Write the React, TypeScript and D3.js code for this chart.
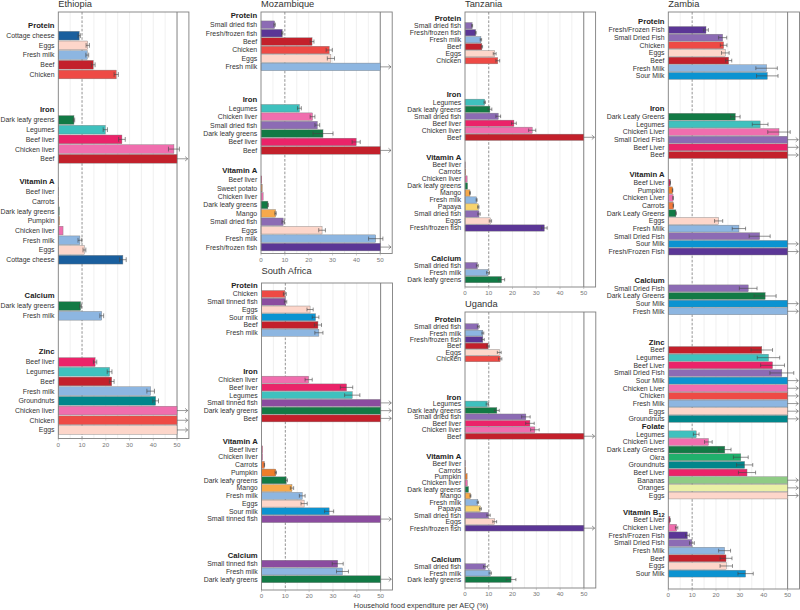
import React from "react";
import * as d3 from "d3";

type Row = [string, number, number]; // food, % of household food expenditure per AEQ, error half-width
const OFF = Infinity; // bar continues beyond the 50% limit (drawn with an arrow)

// ---------------- Ethiopia ----------------
const ETHIOPIA_PROTEIN: Row[] = [["Cottage cheese", 8.8, 0.5], ["Eggs", 12.4, 0.7], ["Fresh milk", 12.2, 0.6], ["Beef", 14.7, 0.8], ["Chicken", 24.4, 0.9]];
const ETHIOPIA_IRON: Row[] = [["Dark leafy greens", 6.6, 0.3], ["Legumes", 19.8, 0.9], ["Beef liver", 26.8, 1.4], ["Chicken liver", 48.7, 2.3], ["Beef", OFF, 0]];
const ETHIOPIA_VITA: Row[] = [["Beef liver", 0.1, 0], ["Carrots", 0.2, 0], ["Dark leafy greens", 0.4, 0], ["Pumpkin", 0.5, 0], ["Chicken liver", 2.0, 0], ["Fresh milk", 9.1, 0.8], ["Eggs", 11.0, 0.6], ["Cottage cheese", 27.2, 1.4]];
const ETHIOPIA_CALCIUM: Row[] = [["Dark leafy greens", 9.4, 0.4], ["Fresh milk", 18.3, 0.8]];
const ETHIOPIA_ZINC: Row[] = [["Beef liver", 15.5, 0.7], ["Legumes", 21.6, 1.0], ["Beef", 22.5, 1.0], ["Fresh milk", 38.9, 1.6], ["Groundnuts", 41.0, 1.2], ["Chicken liver", OFF, 0], ["Chicken", OFF, 0], ["Eggs", OFF, 0]];

// ---------------- Mozambique ----------------
const MOZAMBIQUE_PROTEIN: Row[] = [["Small dried fish", 5.7, 0.3], ["Fresh/frozen fish", 8.9, 0.3], ["Beef", 21.4, 0.8], ["Chicken", 28.6, 1.3], ["Eggs", 29.3, 1.5], ["Fresh milk", OFF, 0]];
const MOZAMBIQUE_IRON: Row[] = [["Legumes", 16.1, 0.8], ["Chicken liver", 21.6, 1.0], ["Small dried fish", 23.6, 1.0], ["Dark leafy greens", 26.0, 4.2], ["Beef liver", 39.9, 1.7], ["Beef", OFF, 0]];
const MOZAMBIQUE_VITA: Row[] = [["Beef liver", 0.3, 0], ["Sweet potato", 0.5, 0], ["Chicken liver", 0.9, 0], ["Dark leafy greens", 2.9, 0.2], ["Mango", 6.1, 0.3], ["Small dried fish", 9.3, 0.5], ["Eggs", 25.6, 1.4], ["Fresh milk", 48.1, 3.0], ["Fresh/frozen fish", OFF, 0]];

// ---------------- South Africa ----------------
const SOUTH_AFRICA_PROTEIN: Row[] = [["Chicken", 9.8, 0.6], ["Small tinned fish", 10.1, 0.5], ["Eggs", 20.4, 1.3], ["Sour milk", 22.7, 1.4], ["Beef", 23.7, 1.5], ["Fresh milk", 24.1, 1.7]];
const SOUTH_AFRICA_IRON: Row[] = [["Chicken liver", 19.8, 1.5], ["Beef liver", 35.7, 2.6], ["Legumes", 38.1, 3.2], ["Small tinned fish", OFF, 0], ["Dark leafy greens", OFF, 0], ["Beef", OFF, 0]];
const SOUTH_AFRICA_VITA: Row[] = [["Beef liver", 0.4, 0], ["Chicken liver", 0.5, 0], ["Carrots", 1.2, 0.1], ["Pumpkin", 6.0, 0.3], ["Dark leafy greens", 10.4, 0.5], ["Mango", 12.8, 0.7], ["Fresh milk", 17.1, 1.2], ["Eggs", 17.9, 1.3], ["Sour milk", 28.4, 1.9], ["Small tinned fish", OFF, 0]];
const SOUTH_AFRICA_CALCIUM: Row[] = [["Small tinned fish", 32.0, 2.3], ["Fresh milk", 34.0, 2.5], ["Dark leafy greens", OFF, 0]];

// ---------------- Tanzania ----------------
const TANZANIA_PROTEIN: Row[] = [["Small dried fish", 3.0, 0.2], ["Fresh/frozen fish", 4.5, 0.2], ["Fresh milk", 6.7, 0.3], ["Beef", 7.1, 0.3], ["Eggs", 12.5, 0.6], ["Chicken", 13.8, 0.8]];
const TANZANIA_IRON: Row[] = [["Legumes", 8.3, 0.3], ["Dark leafy greens", 10.5, 0.8], ["Small dried fish", 14.0, 1.0], ["Beef liver", 20.6, 1.0], ["Chicken liver", 28.3, 1.5], ["Beef", OFF, 0]];
const TANZANIA_VITA: Row[] = [["Beef liver", 0.1, 0], ["Carrots", 0.3, 0], ["Chicken liver", 0.9, 0], ["Dark leafy greens", 1.1, 0], ["Mango", 2.1, 0.2], ["Fresh milk", 4.9, 0.2], ["Papaya", 5.6, 0.3], ["Small dried fish", 5.9, 0.5], ["Eggs", 10.7, 0.5], ["Fresh/frozen fish", 33.4, 1.2]];
const TANZANIA_CALCIUM: Row[] = [["Small dried fish", 5.2, 0.4], ["Fresh milk", 9.7, 0.6], ["Dark leafy greens", 15.4, 1.3]];

// ---------------- Uganda ----------------
const UGANDA_PROTEIN: Row[] = [["Small dried fish", 5.6, 0.4], ["Fresh milk", 7.5, 0.4], ["Fresh/frozen fish", 7.5, 0.6], ["Beef", 9.7, 0.5], ["Eggs", 14.4, 0.8], ["Chicken", 14.8, 0.7]];
const UGANDA_IRON: Row[] = [["Legumes", 9.4, 0.5], ["Dark leafy greens", 13.4, 1.0], ["Small dried fish", 25.6, 1.8], ["Beef liver", 27.3, 1.8], ["Chicken liver", 29.4, 1.8], ["Beef", OFF, 0]];
const UGANDA_VITA: Row[] = [["Beef liver", 0.1, 0], ["Carrots", 0.3, 0], ["Pumpkin", 0.9, 0], ["Chicken liver", 1.0, 0], ["Dark leafy greens", 1.5, 0], ["Mango", 2.3, 0.2], ["Fresh milk", 5.4, 0.3], ["Papaya", 6.5, 0.4], ["Small dried fish", 9.9, 0.7], ["Eggs", 12.5, 0.8], ["Fresh/frozen fish", OFF, 0]];
const UGANDA_CALCIUM: Row[] = [["Small dried fish", 8.6, 0.8], ["Fresh milk", 10.6, 0.5], ["Dark leafy greens", 19.4, 2.0]];

// ---------------- Zambia ----------------
const ZAMBIA_PROTEIN: Row[] = [["Fresh/Frozen Fish", 15.8, 1.0], ["Small Dried Fish", 22.8, 1.7], ["Chicken", 23.2, 1.4], ["Eggs", 23.9, 1.6], ["Beef", 25.3, 1.3], ["Fresh Milk", 41.2, 4.5], ["Sour Milk", 41.5, 4.5]];
const ZAMBIA_IRON: Row[] = [["Dark Leafy Greens", 28.1, 2.0], ["Legumes", 38.5, 3.3], ["Chicken Liver", 46.4, 4.7], ["Small Dried Fish", OFF, 0], ["Beef Liver", OFF, 0], ["Beef", OFF, 0]];
const ZAMBIA_VITA: Row[] = [["Beef Liver", 0.8, 0.1], ["Pumpkin", 1.8, 0.1], ["Chicken Liver", 2.0, 0.1], ["Carrots", 2.1, 0.1], ["Dark Leafy Greens", 3.2, 0.2], ["Eggs", 21.1, 1.7], ["Fresh Milk", 29.6, 2.8], ["Small Dried Fish", 38.3, 4.4], ["Sour Milk", OFF, 0], ["Fresh/Frozen Fish", OFF, 0]];
const ZAMBIA_CALCIUM: Row[] = [["Small Dried Fish", 33.5, 3.7], ["Dark Leafy Greens", 40.6, 4.6], ["Sour Milk", OFF, 0], ["Fresh Milk", OFF, 0]];
const ZAMBIA_ZINC: Row[] = [["Beef", 39.2, 4.5], ["Legumes", 42.0, 4.7], ["Beef Liver", 43.7, 5.0], ["Small Dried Fish", 47.6, 5.0], ["Sour Milk", OFF, 0], ["Chicken Liver", OFF, 0], ["Chicken", OFF, 0], ["Fresh Milk", OFF, 0], ["Eggs", OFF, 0], ["Groundnuts", OFF, 0]];
const ZAMBIA_FOLATE: Row[] = [["Legumes", 11.7, 1.2], ["Chicken Liver", 16.8, 1.6], ["Dark Leafy Greens", 23.7, 2.6], ["Okra", 30.4, 3.1], ["Groundnuts", 32.0, 3.4], ["Beef Liver", 33.0, 3.6], ["Bananas", OFF, 0], ["Oranges", OFF, 0], ["Eggs", OFF, 0]];
const ZAMBIA_B12: Row[] = [["Beef Liver", 0.7, 0.1], ["Chicken Liver", 3.5, 0.5], ["Fresh/Frozen Fish", 8.0, 0.8], ["Small Dried Fish", 9.9, 1.0], ["Fresh Milk", 23.6, 2.5], ["Beef", 24.2, 2.5], ["Eggs", 24.3, 2.6], ["Sour Milk", 32.4, 3.2]];

const X_TICKS = [0, 10, 20, 30, 40, 50];
const X_LABEL = "Household food expenditure per AEQ (%)";
const CAP = 50;
const REFERENCE = 10;

const FOOD_COLORS: Record<string, string> = {
  "cottage cheese": "#1a5f9e",
  eggs: "#fdd6ca",
  "fresh milk": "#8db6e1",
  beef: "#c3202b",
  chicken: "#ee4a45",
  "dark leafy greens": "#127a45",
  legumes: "#3fc1be",
  "beef liver": "#eb2369",
  "chicken liver": "#f06eae",
  carrots: "#f2783a",
  pumpkin: "#ef7d2b",
  groundnuts: "#00868b",
  "small dried fish": "#8c6bb4",
  "fresh/frozen fish": "#5b3696",
  "sweet potato": "#f08a3c",
  mango: "#f6a94b",
  papaya: "#f8d46e",
  "sour milk": "#0b93d1",
  "small tinned fish": "#8b4c9f",
  okra: "#20b06c",
  bananas: "#8fcb85",
  oranges: "#eaf0a6",
};

// ---------- layout (positions only) ----------
type Group = { title: string; rows: Row[]; start: number };
type PanelSpec = {
  name: string; left: number; right: number; top: number; bottom: number; units: number;
  titleGap: number; groups: Group[];
};

const PANELS: PanelSpec[] = [
  { name: "Ethiopia", left: 58.3, right: 188.9, top: 12, bottom: 438.5, units: 43.96, titleGap: 5,
    groups: [
      { title: "Protein", rows: ETHIOPIA_PROTEIN, start: 2.44 },
      { title: "Iron", rows: ETHIOPIA_IRON, start: 11.13 },
      { title: "Vitamin A", rows: ETHIOPIA_VITA, start: 18.53 },
      { title: "Calcium", rows: ETHIOPIA_CALCIUM, start: 30.31 },
      { title: "Zinc", rows: ETHIOPIA_ZINC, start: 36.08 },
    ] },
  { name: "Mozambique", left: 261, right: 392.2, top: 12, bottom: 253.5, units: 28.65, titleGap: 5,
    groups: [
      { title: "Protein", rows: MOZAMBIQUE_PROTEIN, start: 1.51 },
      { title: "Iron", rows: MOZAMBIQUE_IRON, start: 11.42 },
      { title: "Vitamin A", rows: MOZAMBIQUE_VITA, start: 19.89 },
    ] },
  { name: "South Africa", left: 261.5, right: 392.5, top: 283, bottom: 590, units: 39.61, titleGap: 9,
    groups: [
      { title: "Protein", rows: SOUTH_AFRICA_PROTEIN, start: 1.42 },
      { title: "Iron", rows: SOUTH_AFRICA_IRON, start: 12.47 },
      { title: "Vitamin A", rows: SOUTH_AFRICA_VITA, start: 21.46 },
      { title: "Calcium", rows: SOUTH_AFRICA_CALCIUM, start: 36.22 },
    ] },
  { name: "Tanzania", left: 465, right: 595.6, top: 12, bottom: 287, units: 39.29, titleGap: 5,
    groups: [
      { title: "Protein", rows: TANZANIA_PROTEIN, start: 1.96 },
      { title: "Iron", rows: TANZANIA_IRON, start: 12.9 },
      { title: "Vitamin A", rows: TANZANIA_VITA, start: 21.86 },
      { title: "Calcium", rows: TANZANIA_CALCIUM, start: 36.24 },
    ] },
  { name: "Uganda", left: 465, right: 595.8, top: 312, bottom: 588, units: 42.79, titleGap: 5.5,
    groups: [
      { title: "Protein", rows: UGANDA_PROTEIN, start: 2.27 },
      { title: "Iron", rows: UGANDA_IRON, start: 14.26 },
      { title: "Vitamin A", rows: UGANDA_VITA, start: 23.51 },
      { title: "Calcium", rows: UGANDA_CALCIUM, start: 39.48 },
    ] },
  { name: "Zambia", left: 668.3, right: 799.5, top: 12, bottom: 589, units: 75.42, titleGap: 5,
    groups: [
      { title: "Protein", rows: ZAMBIA_PROTEIN, start: 2.35 },
      { title: "Iron", rows: ZAMBIA_IRON, start: 13.69 },
      { title: "Vitamin A", rows: ZAMBIA_VITA, start: 22.31 },
      { title: "Calcium", rows: ZAMBIA_CALCIUM, start: 36.12 },
      { title: "Zinc", rows: ZAMBIA_ZINC, start: 44.18 },
      { title: "Folate", rows: ZAMBIA_FOLATE, start: 55.2 },
      { title: "Vitamin B12", rows: ZAMBIA_B12, start: 66.41 },
    ] },
];

const FONT = "'Liberation Sans', Arial, Helvetica, sans-serif";

function Panel({ p }: { p: PanelSpec }) {
  const x = d3.scaleLinear().domain([0, 55]).range([p.left, p.right]);
  const y = d3.scaleLinear().domain([0, p.units]).range([p.top, p.bottom]);
  const step = y(1) - y(0);
  const bh = step * 0.9;
  const grid = d3.range(5, CAP, 5).filter((t) => t !== REFERENCE);
  return (
    <g>
      <text x={p.left} y={p.top - p.titleGap} fontSize={9.3} fill="#333" fontFamily={FONT}>{p.name}</text>
      <rect x={p.left} y={p.top} width={p.right - p.left} height={p.bottom - p.top} fill="#fff" />
      {grid.map((t) => (
        <line key={t} x1={x(t)} x2={x(t)} y1={p.top} y2={p.bottom} stroke="#e6e6e6" strokeWidth={0.6} />
      ))}
      <line x1={x(CAP)} x2={x(CAP)} y1={p.top} y2={p.bottom} stroke="#8c8c8c" strokeWidth={1.1} />
      <line x1={x(REFERENCE)} x2={x(REFERENCE)} y1={p.top} y2={p.bottom} stroke="#666" strokeWidth={0.7} strokeDasharray="2.6,1.6" />
      {p.groups.map((g) => {
        const hy = y(g.start - 1.07);
        const isB12 = g.title === "Vitamin B12";
        return (
          <g key={g.title}>
            <text x={p.left - 3.8} y={hy} dy="0.35em" textAnchor="end" fontSize={7.7} fontWeight="bold" fill="#222" fontFamily={FONT}>
              {isB12 ? (<>Vitamin B<tspan fontSize={5.6} dy={2.2}>12</tspan></>) : g.title}
            </text>
            {g.rows.map(([food, v, e], i) => {
              const cy = y(g.start + i);
              const shown = Math.min(v, CAP);
              const col = FOOD_COLORS[food.toLowerCase()] || "#999";
              const capH = bh * 0.55;
              return (
                <g key={food}>
                  <text x={p.left - 3.8} y={cy} dy="0.35em" textAnchor="end" fontSize={6.9} fill="#333" fontFamily={FONT}>{food}</text>
                  <rect x={x(0)} y={cy - bh / 2} width={x(shown) - x(0)} height={bh} fill={col} stroke="#7a7a7a" strokeWidth={0.4} />
                  {e > 0 && v <= CAP && (
                    <g stroke="#444" strokeWidth={0.6}>
                      <line x1={x(v - e)} x2={x(v + e)} y1={cy} y2={cy} />
                      <line x1={x(v - e)} x2={x(v - e)} y1={cy - capH / 2} y2={cy + capH / 2} />
                      <line x1={x(v + e)} x2={x(v + e)} y1={cy - capH / 2} y2={cy + capH / 2} />
                    </g>
                  )}
                  {v > CAP && (
                    <g stroke="#555" strokeWidth={0.6} fill="none">
                      <line x1={x(CAP)} x2={x(54.5)} y1={cy} y2={cy} />
                      <path d={`M${x(54.5) - 2.6},${cy - 2.2}L${x(54.5)},${cy}L${x(54.5) - 2.6},${cy + 2.2}`} />
                    </g>
                  )}
                </g>
              );
            })}
          </g>
        );
      })}
      <rect x={p.left} y={p.top} width={p.right - p.left} height={p.bottom - p.top} fill="none" stroke="#7f7f7f" strokeWidth={0.9} />
      {X_TICKS.map((t) => (
        <g key={t}>
          <line x1={x(t)} x2={x(t)} y1={p.bottom} y2={p.bottom + 2} stroke="#999" strokeWidth={0.5} />
          <text x={x(t)} y={p.bottom + 8} textAnchor="middle" fontSize={6.2} fill="#777" fontFamily={FONT}>{t}</text>
        </g>
      ))}
    </g>
  );
}

export default function App() {
  return (
    <svg width={800} height={610} style={{ position: "absolute", left: 0, top: 0, background: "#fff" }}>
      {PANELS.map((p) => <Panel key={p.name} p={p} />)}
      <text x={421} y={607.5} textAnchor="middle" fontSize={7.3} fill="#333" fontFamily={FONT}>{X_LABEL}</text>
    </svg>
  );
}
